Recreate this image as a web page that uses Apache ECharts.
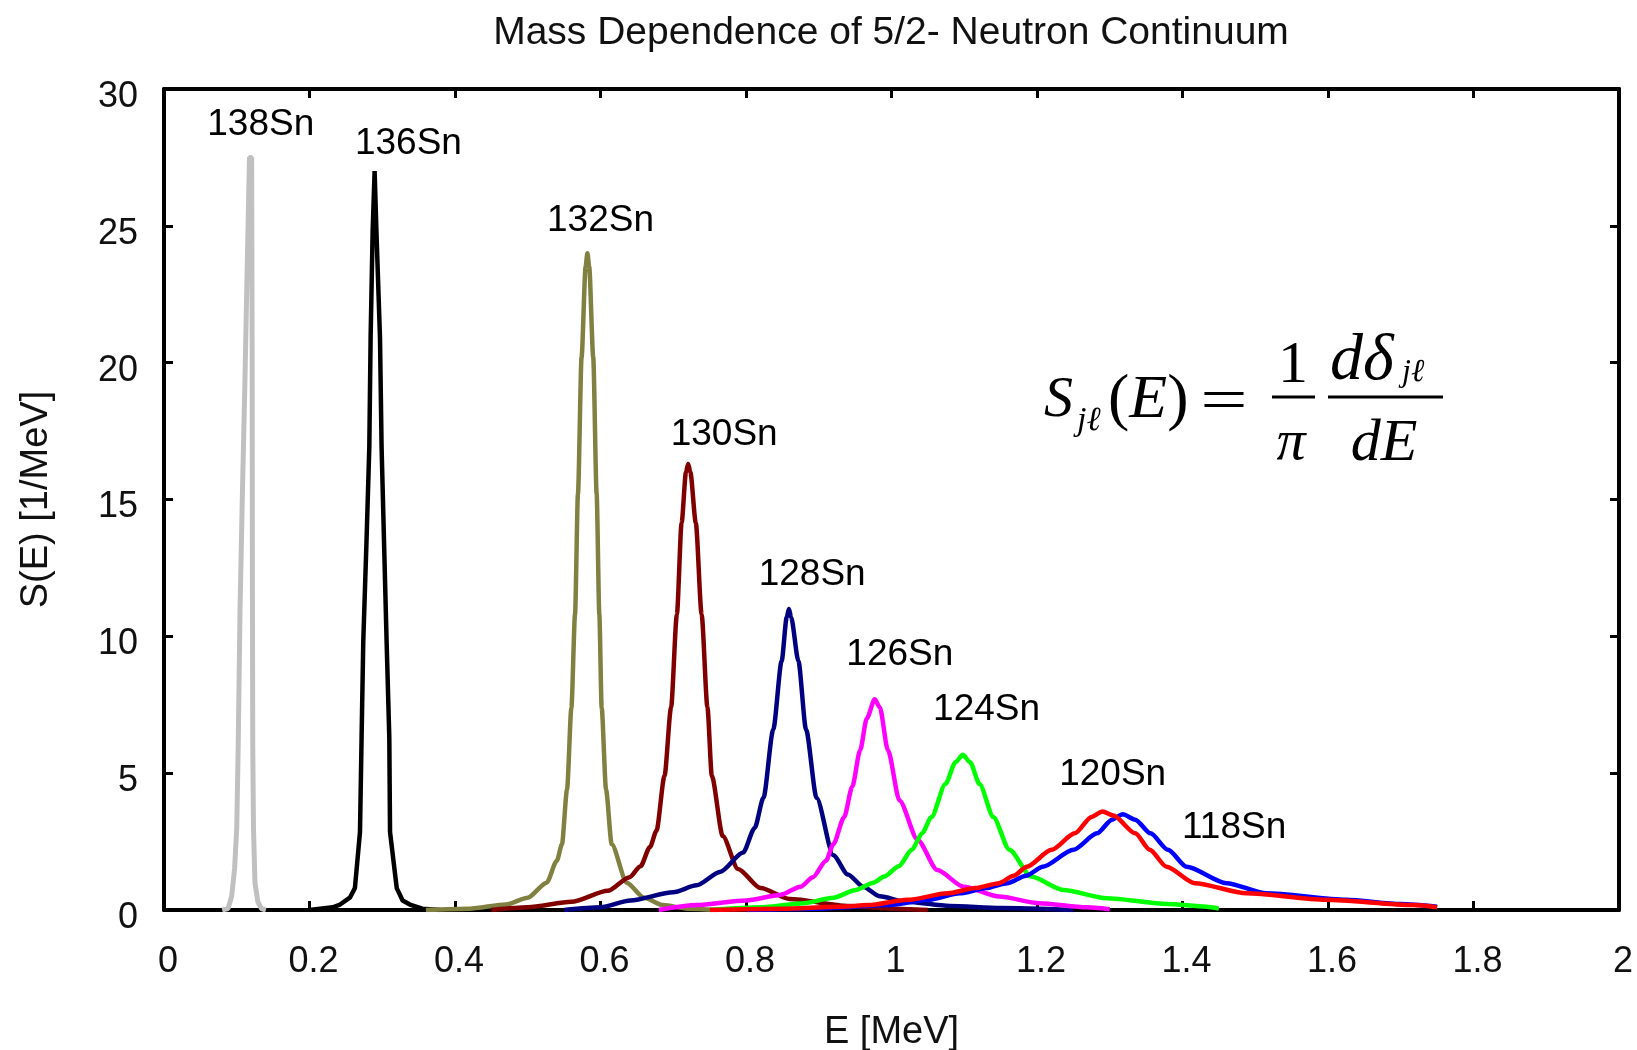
<!DOCTYPE html>
<html>
<head>
<meta charset="utf-8">
<script src="https://cdn.jsdelivr.net/npm/echarts@6/dist/echarts.min.js"></script>
<style>
  html, body { margin: 0; padding: 0; background: #ffffff; }
  #chart { width: 1637px; height: 1050px; }
</style>
</head>
<body>
<div id="chart"></div>
<script>
// Strength function S(E) of the 5/2- neutron continuum for the Sn isotopes,
// each curve as [E (MeV), S (1/MeV)] pairs.
const sn138 = [[0.080,0],[0.088,0.05],[0.093,0.5],[0.097,1.5],[0.100,3],[0.102,6],[0.1045,11],[0.108,15.5],[0.111,19],[0.114,23],[0.1175,27.5],[0.1205,27.5],[0.1212,20],[0.1215,12],[0.122,6],[0.123,3],[0.125,1],[0.129,0.3],[0.134,0.05],[0.140,0]];
const sn136 = [[0.20,0],[0.232,0.1],[0.242,0.2],[0.2555,0.45],[0.2624,0.8],[0.2694,2.85],[0.2716,6.3],[0.2739,9.8],[0.2785,13.6],[0.2822,16.9],[0.2840,20.9],[0.2868,24.8],[0.2895,27.0],[0.2920,24.8],[0.2969,20.9],[0.2991,16.9],[0.3023,13.6],[0.3060,9.8],[0.3097,6.3],[0.3107,2.85],[0.3199,0.8],[0.3280,0.35],[0.338,0.2],[0.355,0.05],[0.38,0]];
const sn132 = [[0.36,0],[0.42,0.05],[0.47,0.2],[0.50,0.45],[0.526,1.0],[0.540,1.8],[0.547,2.4],[0.554,4.4],[0.560,7.4],[0.565,10.8],[0.569,15.2],[0.574,20.2],[0.5795,23.5],[0.582,24.0],[0.5845,23.5],[0.590,20.2],[0.5947,15.2],[0.5984,10.8],[0.6016,7.4],[0.6076,4.4],[0.6154,2.4],[0.636,1.0],[0.660,0.45],[0.686,0.18],[0.720,0.05],[0.760,0]];
const sn130 = [[0.45,0],[0.50,0.1],[0.56,0.3],[0.61,0.7],[0.640,1.2],[0.655,1.6],[0.668,2.3],[0.677,2.9],[0.688,4.9],[0.697,7.4],[0.705,10.8],[0.7115,14.15],[0.7175,16.0],[0.7205,16.3],[0.7235,16.0],[0.731,14.15],[0.739,10.8],[0.747,7.4],[0.753,4.9],[0.768,2.7],[0.789,1.5],[0.820,0.8],[0.860,0.4],[0.940,0.15],[1.000,0.05],[1.050,0]];
const sn128 = [[0.55,0],[0.60,0.1],[0.641,0.35],[0.700,0.65],[0.732,0.9],[0.765,1.4],[0.796,2.1],[0.812,3.0],[0.824,4.1],[0.8375,6.6],[0.849,9.1],[0.856,10.7],[0.859,11.0],[0.862,10.7],[0.872,9.1],[0.8825,6.6],[0.897,4.1],[0.920,2.0],[0.940,1.3],[0.961,0.85],[0.984,0.5],[1.020,0.3],[1.080,0.15],[1.150,0.07],[1.250,0]];
const sn126 = [[0.68,0],[0.732,0.18],[0.800,0.35],[0.847,0.55],[0.875,0.85],[0.892,1.2],[0.910,1.8],[0.920,2.4],[0.935,3.4],[0.946,4.5],[0.957,5.85],[0.966,7.0],[0.977,7.7],[0.984,7.4],[0.995,5.85],[1.011,4.0],[1.036,2.56],[1.063,1.46],[1.099,0.85],[1.148,0.49],[1.203,0.25],[1.268,0.1],[1.300,0.03]];
const sn124 = [[0.75,0],[0.82,0.1],[0.88,0.25],[0.92,0.45],[0.951,0.73],[0.975,1.0],[0.990,1.22],[1.010,1.6],[1.028,2.2],[1.042,2.8],[1.055,3.4],[1.074,4.6],[1.088,5.4],[1.098,5.67],[1.108,5.4],[1.121,4.6],[1.140,3.4],[1.162,2.2],[1.192,1.22],[1.236,0.73],[1.296,0.43],[1.379,0.22],[1.433,0.12],[1.450,0.05]];
const sn120 = [[0.75,0],[0.85,0.05],[0.93,0.12],[0.968,0.18],[1.022,0.37],[1.077,0.61],[1.115,0.8],[1.148,0.98],[1.168,1.25],[1.186,1.58],[1.220,2.2],[1.252,2.8],[1.275,3.4],[1.290,3.6],[1.305,3.45],[1.335,2.8],[1.355,2.2],[1.378,1.58],[1.417,0.98],[1.488,0.61],[1.597,0.37],[1.718,0.18],[1.750,0.1]];
const sn118 = [[0.80,0],[0.90,0.05],[0.995,0.18],[1.050,0.37],[1.094,0.61],[1.130,0.8],[1.159,0.98],[1.185,1.25],[1.208,1.58],[1.250,2.2],[1.2825,2.8],[1.303,3.3],[1.318,3.5],[1.335,3.3],[1.356,2.8],[1.380,2.2],[1.4056,1.58],[1.4605,0.98],[1.515,0.61],[1.625,0.37],[1.700,0.22],[1.750,0.12]];

// Isotope names and where each name sits, in [E, S] units
const isotopeNames = ['138Sn','136Sn','132Sn','130Sn','128Sn','126Sn','124Sn','120Sn','118Sn'];
const nameAnchors = [[0.133,28.7],[0.336,28.0],[0.600,25.2],[0.770,17.38],[0.891,12.24],[1.0115,9.33],[1.1307,7.31],[1.304,4.95],[1.471,3.0]];

// Axis ranges
const xRange = [0, 2], xStep = 0.2;
const yRange = [0, 30], yStep = 5;

const SANS = '"Liberation Sans", Arial, sans-serif';
const SERIF = '"Liberation Serif", "Times New Roman", serif';
const INK = '#000000';

function curve(name, data, color, width, smooth) {
  return {
    name, type: 'line', data,
    xAxisIndex: 0, yAxisIndex: 0,
    showSymbol: false, symbol: 'none',
    smooth, smoothMonotone: 'x',
    lineStyle: { color, width },
    itemStyle: { color },
    silent: true
  };
}

const chart = echarts.init(document.getElementById('chart'), null, { renderer: 'canvas' });

const frame = { show: true, onZero: false, lineStyle: { color: '#000', width: 4 } };
const innerTick = { show: true, inside: true, length: 9, lineStyle: { color: '#000', width: 3 } };

chart.setOption({
  animation: false,
  backgroundColor: '#ffffff',
  title: {
    text: 'Mass Dependence of 5/2- Neutron Continuum',
    left: 886, top: 9, textAlign: 'center',
    textStyle: { fontFamily: SANS, fontSize: 39, fontWeight: 'normal', color: '#111' }
  },
  grid: { left: 164, right: 18, top: 89, bottom: 140, containLabel: false, outerBoundsMode: 'none' },
  xAxis: [
    {
      type: 'value', min: xRange[0], max: xRange[1], interval: xStep, position: 'bottom',
      name: 'E [MeV]', nameLocation: 'middle', nameGap: 104,
      nameTextStyle: { fontFamily: SANS, fontSize: 38, color: '#111' },
      axisLine: frame, axisTick: innerTick, splitLine: { show: false },
      axisLabel: { fontFamily: SANS, fontSize: 36, color: '#111', margin: 34, padding: [0, 0, 0, 8] }
    },
    {
      type: 'value', min: xRange[0], max: xRange[1], interval: xStep, position: 'top',
      axisLine: frame, axisTick: innerTick, splitLine: { show: false },
      axisLabel: { show: false }
    }
  ],
  yAxis: [
    {
      type: 'value', min: yRange[0], max: yRange[1], interval: yStep, position: 'left',
      name: 'S(E) [1/MeV]', nameLocation: 'middle', nameGap: 108,
      nameTextStyle: { fontFamily: SANS, fontSize: 38, color: '#111' },
      axisLine: frame, axisTick: innerTick, splitLine: { show: false },
      axisLabel: { fontFamily: SANS, fontSize: 36, color: '#111', margin: 26, verticalAlign: 'top', lineHeight: 16 }
    },
    {
      type: 'value', min: yRange[0], max: yRange[1], interval: yStep, position: 'right',
      axisLine: frame, axisTick: innerTick, splitLine: { show: false },
      axisLabel: { show: false }
    }
  ],
  series: [
    curve('138Sn', sn138, '#c0c0c0', 5, false),
    curve('136Sn', sn136, '#000000', 4.5, false),
    curve('132Sn', sn132, '#808040', 4.5, 0.25),
    curve('130Sn', sn130, '#800000', 4.5, 0.25),
    curve('128Sn', sn128, '#000080', 4.5, 0.25),
    curve('126Sn', sn126, '#ff00ff', 4.5, 0.25),
    curve('124Sn', sn124, '#00ff00', 4.5, 0.25),
    curve('118Sn', sn118, '#0000ff', 4.5, 0.25),
    curve('120Sn', sn120, '#ff0000', 4.5, 0.25),
    {
      name: 'isotope names', type: 'scatter',
      xAxisIndex: 0, yAxisIndex: 0,
      symbolSize: 0, itemStyle: { color: '#000' },
      silent: true, z: 5,
      data: nameAnchors.map((p, i) => ({ value: p, name: isotopeNames[i] })),
      label: {
        show: true, position: 'inside', formatter: p => p.name,
        fontFamily: SANS, fontSize: 37, color: INK, opacity: 1,
        textBorderWidth: 0
      }
    }
  ],
  graphic: [
    // S_{jl}(E) = (1/pi) d(delta_{jl})/dE
    { type: 'text', x: 1044, y: 401, style: { text: 'S', font: 'italic 58px ' + SERIF, fill: '#000', align: 'left', verticalAlign: 'middle' } },
    { type: 'text', x: 1077, y: 421, style: { text: 'jℓ', font: 'italic 34px ' + SERIF, fill: '#000', align: 'left', verticalAlign: 'middle' } },
    { type: 'text', x: 1108, y: 401, style: { text: '{r|(}{i|E}{r|)}', fill: '#000', align: 'left', verticalAlign: 'middle',
        rich: { r: { font: '64px ' + SERIF, fill: '#000' }, i: { font: 'italic 62px ' + SERIF, fill: '#000' } } } },
    { type: 'text', x: 1224, y: 403, scaleX: 1.4, style: { text: '=', font: '60px ' + SERIF, fill: '#000', align: 'center', verticalAlign: 'middle' } },
    { type: 'line', shape: { x1: 1272, y1: 397, x2: 1315, y2: 397 }, style: { stroke: '#000', lineWidth: 3 } },
    { type: 'text', x: 1293, y: 366, style: { text: '1', font: '60px ' + SERIF, fill: '#000', align: 'center', verticalAlign: 'middle' } },
    { type: 'text', x: 1291, y: 444, style: { text: 'π', font: 'italic 58px ' + SERIF, fill: '#000', align: 'center', verticalAlign: 'middle' } },
    { type: 'line', shape: { x1: 1328, y1: 397, x2: 1443, y2: 397 }, style: { stroke: '#000', lineWidth: 3 } },
    { type: 'text', x: 1330, y: 362, style: { text: 'dδ', font: 'italic 66px ' + SERIF, fill: '#000', align: 'left', verticalAlign: 'middle' } },
    { type: 'text', x: 1402, y: 373, style: { text: 'jℓ', font: 'italic 32px ' + SERIF, fill: '#000', align: 'left', verticalAlign: 'middle' } },
    { type: 'text', x: 1384, y: 444, style: { text: 'dE', font: 'italic 60px ' + SERIF, fill: '#000', align: 'center', verticalAlign: 'middle' } }
  ]
});
</script>
</body>
</html>
